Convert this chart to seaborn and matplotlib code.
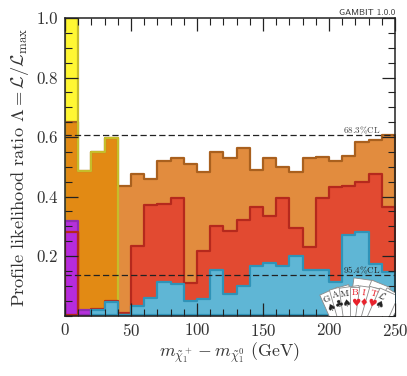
import numpy as np
import seaborn as sns
from matplotlib import pyplot as plt
from matplotlib.patches import Polygon

# bin edges in GeV, one bin per 10 GeV
edges = list(range(0, 260, 10))
yellow_edges = [0, 10, 20, 30, 40]
purple_edges = [0, 10, 20]
blue_edges = list(range(20, 260, 10))

yellow_vals = [1.0, 0.486, 0.55, 0.596]
orange_vals = [0.65, 0.486, 0.55, 0.596, 0.435, 0.475, 0.459, 0.519, 0.53, 0.508,
               0.483, 0.548, 0.528, 0.562, 0.488, 0.53, 0.498, 0.484, 0.53, 0.532,
               0.521, 0.536, 0.583, 0.589, 0.606]
red_vals = [0.28, 0.003, 0.023, 0.05, 0.008, 0.235, 0.37, 0.376, 0.395, 0.109,
            0.216, 0.30, 0.285, 0.32, 0.365, 0.334, 0.395, 0.294, 0.23, 0.395,
            0.433, 0.436, 0.45, 0.477, 0.365]
purple_vals = [0.318, 0.018]
blue_vals = [0.018, 0.045, 0.0, 0.032, 0.058, 0.112, 0.106, 0.048, 0.056,
             0.152, 0.073, 0.098, 0.166, 0.176, 0.166, 0.20, 0.154, 0.154,
             0.112, 0.27, 0.28, 0.173, 0.145]

cl_levels = [0.6065, 0.1353]
cl_labels = [r"$\mathrm{68.3\%CL}$", r"$\mathrm{95.4\%CL}$"]
x_ticks = [0, 50, 100, 150, 200, 250]
y_ticks = [0.2, 0.4, 0.6, 0.8, 1.0]
y_tick_labels = ["0.2", "0.4", "0.6", "0.8", "1.0"]

card_letters = ["G", "A", "M", "B", "I", "T", r"$\mathcal{L}$"]
card_suits = ["\u2660", "\u2663", "\u2660", "\u2665", "\u2666", "\u2665", "\u2660"]
card_colors = ["#222222", "#222222", "#222222", "#e8202a", "#e8202a", "#e8202a", "#222222"]


def step_hist(ax, bin_edges, vals, face, edge, lw=1.6):
    centers = [(a + b) / 2 for a, b in zip(bin_edges[:-1], bin_edges[1:])]
    sns.histplot(x=centers, weights=vals, bins=bin_edges, element="step", fill=True,
                 facecolor=face, edgecolor=edge, linewidth=lw, ax=ax)


def draw_card(ax, cx, cy, angle, letter=None, suit=None, color="#222222"):
    # card drawn in pixel units, cx/cy is where the index letter sits
    t = np.radians(angle)
    rot = np.array([[np.cos(t), -np.sin(t)], [np.sin(t), np.cos(t)]])
    corners = np.array([[-5, -6.5], [15, -6.5], [15, 40], [-5, 40]])
    pts = corners @ rot.T + [cx, cy]
    ax.add_patch(Polygon(pts, closed=True, facecolor="white", edgecolor="#8a8a8a", linewidth=0.6))
    if letter:
        ax.text(cx, cy, letter, rotation=-angle, color=color, fontsize=6.8,
                ha="center", va="center")
        sx, sy = rot @ np.array([0.5, 9.5]) + [cx, cy]
        ax.text(sx, sy, suit, rotation=-angle, color=color, fontsize=7.5, ha="center",
                va="center", family="DejaVu Sans")


sns.set_style("ticks")
plt.rcParams["font.family"] = ["cmr10"]
plt.rcParams["mathtext.fontset"] = "cm"
plt.rcParams["axes.formatter.use_mathtext"] = True
plt.rcParams["axes.unicode_minus"] = False

fig = plt.figure(figsize=(4.07, 3.76), dpi=100)
rect = [65 / 407, 1 - 315.5 / 376, 330 / 407, 297.5 / 376]
ax = fig.add_axes(rect)

no_fill = (1, 1, 1, 0)
step_hist(ax, yellow_edges, yellow_vals, "#fff733", no_fill, lw=0)
step_hist(ax, edges, orange_vals, (0.86, 0.435, 0.05, 0.8), "#a9601e")
step_hist(ax, yellow_edges, yellow_vals, no_fill, "#c6bd2a")
step_hist(ax, edges, red_vals, "#e24a31", "#b5291d")
step_hist(ax, purple_edges, purple_vals, (0.70, 0.16, 0.93, 0.92), "#8f2cb0")
# red outline stays visible through the purple bar
step_hist(ax, edges[:2], red_vals[:1], no_fill, "#b5291d")
step_hist(ax, blue_edges, blue_vals, "#5fb6d5", "#2f93b8")

for level in cl_levels:
    ax.axhline(level, color="#222222", linestyle="--", linewidth=0.9, dashes=(5, 2.5), zorder=5)
ax.text(239, cl_levels[0] - 0.004, cl_labels[0], ha="right", va="bottom", fontsize=6.5,
        color="#444444", zorder=6)
ax.text(239, cl_levels[1] - 0.002, cl_labels[1], ha="right", va="bottom", fontsize=6.5,
        color="#222222", zorder=6)

ax.set_xlim(0, 250)
ax.set_ylim(0, 1)
ax.set_xticks(x_ticks)
ax.set_xticks(range(0, 260, 10), minor=True)
ax.set_yticks(y_ticks)
ax.set_yticklabels(y_tick_labels)
ax.set_yticks(np.arange(0, 1.01, 0.05), minor=True)
ax.set_axisbelow(False)
ax.tick_params(which="major", direction="in", top=True, right=True, length=9.5, width=0.9,
               color="#222222", labelsize=12.2, labelcolor="#333333", pad=5)
ax.tick_params(which="minor", direction="in", top=True, right=True, length=5, width=0.8,
               color="#222222")
for spine in ax.spines.values():
    spine.set_linewidth(1.1)
    spine.set_color("#222222")
    spine.set_zorder(8)

ax.set_xlabel(r"$m_{\tilde{\chi}_1^+} - m_{\tilde{\chi}_1^0}$ (GeV)", fontsize=12.8, labelpad=1, color="#333333")
ax.set_ylabel(r"Profile likelihood ratio $\Lambda = \mathcal{L}/\mathcal{L}_\mathrm{max}$",
              fontsize=13.2, labelpad=4, color="#333333")
ax.text(1.0, 1.003, "GAMBIT 1.0.0", transform=ax.transAxes, ha="right", va="bottom",
        fontsize=6.5, family="cmss10", color="#333333")

# cards logo, placed in pixel units of the image
logo = fig.add_axes(rect, zorder=10)
logo.set_xlim(65, 395)
logo.set_ylim(315.5, 18)
logo.axis("off")

draw_card(logo, 358, 285, 8)
draw_card(logo, 374, 288, 22)
draw_card(logo, 388, 296, 32)
card_x = [327, 336, 345, 355, 364, 373, 382]
card_y = [299, 295, 294, 293, 293, 294, 296]
card_ang = [-24, -16, -8, 0, 8, 16, 24]
for i in range(len(card_letters)):
    draw_card(logo, card_x[i], card_y[i], card_ang[i], card_letters[i], card_suits[i], card_colors[i])

fig.savefig("out.png", dpi=100)
